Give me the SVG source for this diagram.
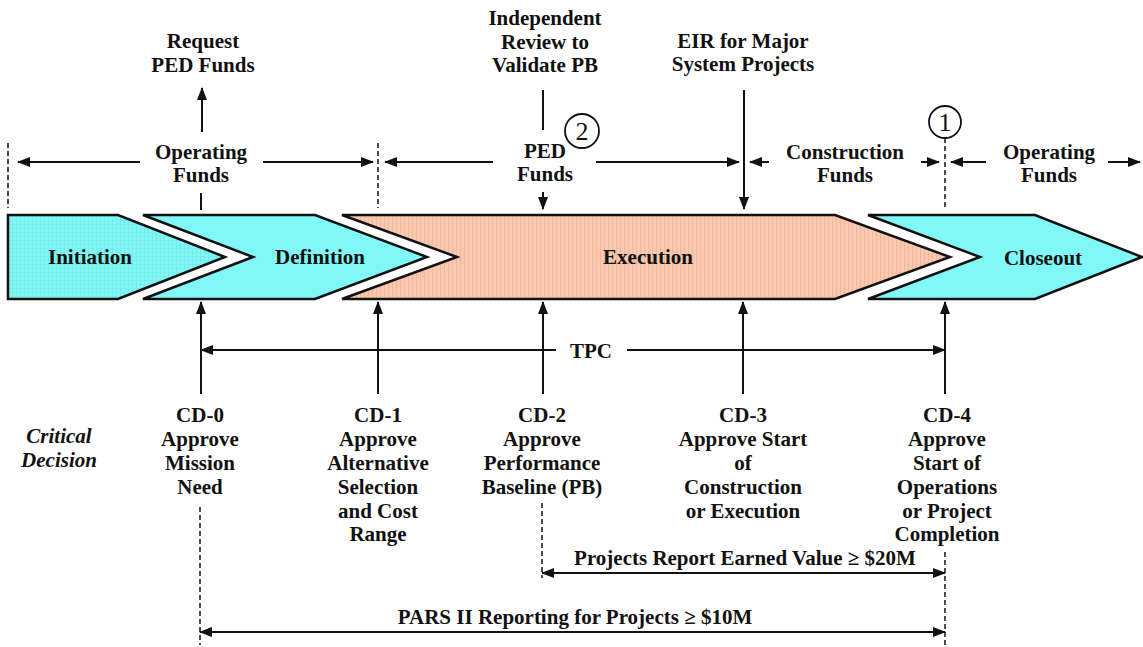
<svg xmlns="http://www.w3.org/2000/svg" width="1143" height="647" viewBox="0 0 1143 647">
<style>
text{font-family:"Liberation Serif","Times New Roman",serif;font-weight:bold;font-size:21px;fill:#111;text-anchor:middle}
.it{font-style:italic}
.num{font-weight:normal;font-size:26px}
.chev{stroke:#111;stroke-width:2.5;stroke-linejoin:miter}
.cy{fill:#80f8f8}
.ln{stroke:#111;stroke-width:2;fill:none}
.arr{marker-end:url(#ah)}
.dbl{marker-start:url(#ah);marker-end:url(#ah)}
.dash{stroke:#111;stroke-width:1.5;stroke-dasharray:5,3;fill:none}
.circ{fill:#fff;stroke:#111;stroke-width:1.8}
</style>
<defs>
<marker id="ah" markerUnits="userSpaceOnUse" markerWidth="13" markerHeight="10" refX="12" refY="5" orient="auto-start-reverse">
<path d="M0,0 L13,5 L0,10 Z" fill="#111"/>
</marker>
<pattern id="stripes" width="4" height="10" patternUnits="userSpaceOnUse">
<rect width="4" height="10" fill="#f9c8ae"/>
<rect width="1" height="10" fill="#f0b89c"/>
</pattern>
<pattern id="grid" width="4" height="4" patternUnits="userSpaceOnUse">
<rect width="4" height="4" fill="#84f6f6"/>
<rect width="1" height="4" fill="#70ecec"/>
<rect width="4" height="1" fill="#78efef"/>
</pattern>
</defs>

<g id="initiation">
<path class="chev" fill="url(#grid)" d="M8,215 L118,215 L225,257 L118,299 L8,299 Z"/>
<text x="90" y="264">Initiation</text>
</g>
<g id="definition">
<path class="chev cy" d="M143,215 L315,215 L427,257 L315,299 L143,299 L253,257 Z"/>
<text x="320" y="264">Definition</text>
</g>
<g id="execution">
<path class="chev" fill="url(#stripes)" d="M342,215 L835,215 L950,257 L835,299 L342,299 L457,257 Z"/>
<text x="648" y="264">Execution</text>
</g>
<g id="closeout">
<path class="chev cy" d="M868,215 L1035,215 L1142,257 L1035,299 L868,299 L980,257 Z"/>
<text x="1043" y="265">Closeout</text>
</g>

<g id="request-ped"><text x="203" y="48">Request</text><text x="203" y="72">PED Funds</text></g>
<g id="independent-review"><text x="545" y="25">Independent</text><text x="545" y="49">Review to</text><text x="545" y="72">Validate PB</text></g>
<g id="eir"><text x="743" y="48">EIR for Major</text><text x="743" y="71">System Projects</text></g>
<g id="operating-funds-1"><text x="201" y="159">Operating</text><text x="201" y="182">Funds</text></g>
<g id="ped-funds"><text x="545" y="158">PED</text><text x="545" y="181">Funds</text></g>
<g id="construction-funds"><text x="845" y="159">Construction</text><text x="845" y="182">Funds</text></g>
<g id="operating-funds-2"><text x="1049" y="159">Operating</text><text x="1049" y="182">Funds</text></g>
<g id="marker-2"><circle class="circ" cx="582" cy="131" r="17"/><text class="num" x="582" y="140">2</text></g>
<g id="marker-1"><circle class="circ" cx="945" cy="122" r="16"/><text class="num" x="945" y="131">1</text></g>

<g id="critical-decision"><text class="it" x="59" y="443">Critical</text><text class="it" x="59" y="467">Decision</text></g>
<g id="cd0"><text x="200" y="422">CD-0</text><text x="200" y="446">Approve</text><text x="200" y="470">Mission</text><text x="200" y="494">Need</text></g>
<g id="cd1"><text x="378" y="422">CD-1</text><text x="378" y="446">Approve</text><text x="378" y="470">Alternative</text><text x="378" y="494">Selection</text><text x="378" y="518">and Cost</text><text x="378" y="541">Range</text></g>
<g id="cd2"><text x="542" y="422">CD-2</text><text x="542" y="446">Approve</text><text x="542" y="470">Performance</text><text x="542" y="494">Baseline (PB)</text></g>
<g id="cd3"><text x="743" y="422">CD-3</text><text x="743" y="446">Approve Start</text><text x="743" y="470">of</text><text x="743" y="494">Construction</text><text x="743" y="518">or Execution</text></g>
<g id="cd4"><text x="947" y="422">CD-4</text><text x="947" y="446">Approve</text><text x="947" y="470">Start of</text><text x="947" y="494">Operations</text><text x="947" y="518">or Project</text><text x="947" y="541">Completion</text></g>
<g id="tpc"><text x="591" y="358">TPC</text></g>
<g id="earned-value"><text x="745" y="565">Projects Report Earned Value ≥ $20M</text></g>
<g id="pars"><text x="575" y="624">PARS II Reporting for Projects ≥ $10M</text></g>

<g id="connectors">
<line class="ln arr" x1="202" y1="132" x2="202" y2="88"/>
<line class="ln" x1="201" y1="193" x2="201" y2="210"/>
<line class="ln arr" x1="140" y1="162" x2="18" y2="162"/>
<line class="ln arr" x1="263" y1="162" x2="373" y2="162"/>
<line class="dash" x1="8" y1="143" x2="8" y2="208"/>
<line class="dash" x1="378" y1="143" x2="378" y2="208"/>
<line class="ln arr" x1="493" y1="162" x2="385" y2="162"/>
<line class="ln arr" x1="596" y1="162" x2="739" y2="162"/>
<line class="ln" x1="543" y1="90" x2="543" y2="130"/>
<line class="ln arr" x1="543" y1="192" x2="543" y2="209"/>
<line class="ln arr" x1="744" y1="90" x2="744" y2="209"/>
<line class="ln arr" x1="769" y1="162" x2="750" y2="162"/>
<line class="ln arr" x1="921" y1="162" x2="939" y2="162"/>
<line class="dash" x1="945" y1="138" x2="945" y2="208"/>
<line class="ln arr" x1="986" y1="162" x2="951" y2="162"/>
<line class="ln arr" x1="1108" y1="162" x2="1140" y2="162"/>
<line class="ln arr" x1="201" y1="394" x2="201" y2="302"/>
<line class="ln arr" x1="378" y1="394" x2="378" y2="302"/>
<line class="ln arr" x1="543" y1="394" x2="543" y2="302"/>
<line class="ln arr" x1="743" y1="394" x2="743" y2="302"/>
<line class="ln arr" x1="945" y1="394" x2="945" y2="302"/>
<line class="ln arr" x1="556" y1="350" x2="201" y2="350"/>
<line class="ln arr" x1="627" y1="350" x2="945" y2="350"/>
<line class="dash" x1="200" y1="507" x2="200" y2="645"/>
<line class="dash" x1="542" y1="503" x2="542" y2="578"/>
<line class="dash" x1="945" y1="552" x2="945" y2="645"/>
<line class="ln dbl" x1="542" y1="573" x2="945" y2="573"/>
<line class="ln dbl" x1="200" y1="632" x2="945" y2="632"/>
</g>
</svg>
